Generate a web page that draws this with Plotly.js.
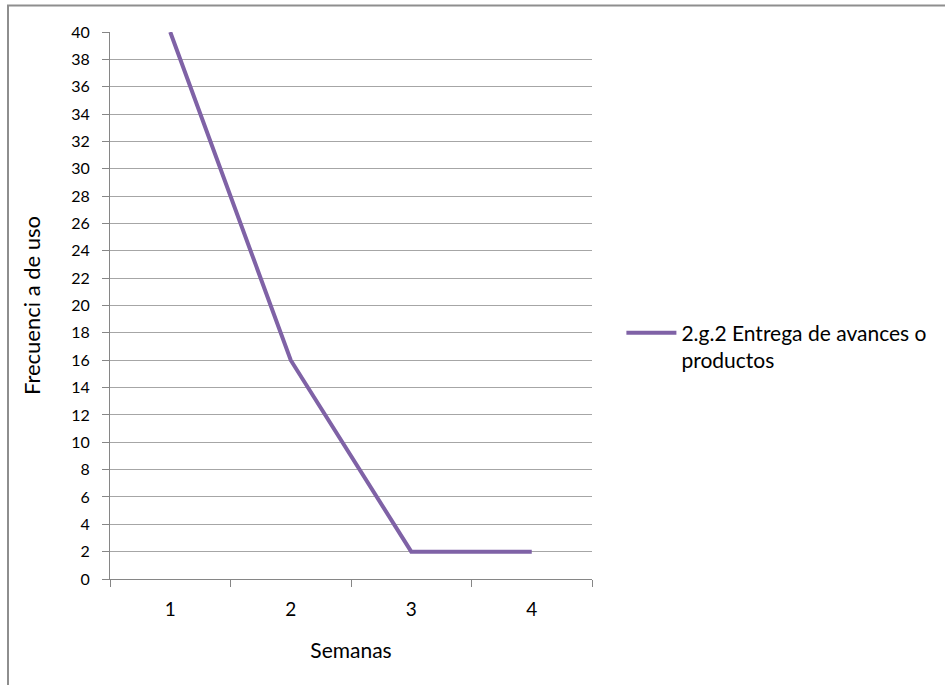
<!DOCTYPE html>
<html>
<head>
<meta charset="utf-8">
<script src="https://cdn.plot.ly/plotly-3.0.1.min.js"></script>
<style>
  html, body { margin: 0; padding: 0; background: #ffffff; }
  #chart { width: 945px; height: 685px; }
</style>
</head>
<body>
<div id="chart"></div>
<script>
// Weekly usage frequency of "2.g.2 Entrega de avances o productos"
const weeks = ['1', '2', '3', '4'];
const frequency = [40, 16, 2, 2];
const seriesName = '2.g.2 Entrega de avances o<br>productos';
const yTicks = [0, 2, 4, 6, 8, 10, 12, 14, 16, 18, 20, 22, 24, 26, 28, 30, 32, 34, 36, 38, 40];

const font = 'Lato, "Open Sans", sans-serif';
const gridColor = '#a6a6a6';
const axisColor = '#868686';

const trace = {
  x: weeks,
  y: frequency,
  type: 'scatter',
  mode: 'lines',
  name: seriesName,
  line: { color: '#7f62a6', width: 4 },
  hoverinfo: 'x+y'
};

const layout = {
  width: 945,
  height: 685,
  margin: { l: 110, r: 353, t: 32, b: 106 },
  paper_bgcolor: '#ffffff',
  plot_bgcolor: '#ffffff',
  font: { family: font, color: '#000000' },
  showlegend: true,
  legend: {
    x: 1.061, y: 0.487, xanchor: 'left', yanchor: 'top',
    font: { family: font, size: 21, color: '#000000' },
    valign: 'top',
    itemwidth: 50,
    bgcolor: 'rgba(0,0,0,0)'
  },
  xaxis: {
    type: 'category',
    range: [-0.5, 3.5],
    tickson: 'boundaries',
    ticks: 'outside',
    ticklen: 7,
    tickcolor: axisColor,
    showgrid: false,
    showline: true,
    linecolor: axisColor,
    linewidth: 1,
    zeroline: false,
    tickfont: { family: font, size: 19 },
    ticklabelstandoff: 13,
    title: { text: 'Semanas', font: { family: font, size: 21 }, standoff: 24 },
    fixedrange: true
  },
  yaxis: {
    range: [0, 40],
    tickvals: yTicks,
    ticks: 'outside',
    ticklen: 7,
    tickcolor: axisColor,
    showgrid: true,
    gridcolor: gridColor,
    gridwidth: 1,
    showline: true,
    linecolor: axisColor,
    linewidth: 1,
    zeroline: false,
    tickfont: { family: font, size: 16 },
    ticklabelstandoff: 9,
    title: { text: 'Frecuenci a de uso', font: { family: font, size: 22 }, standoff: 24 },
    fixedrange: true
  },
  shapes: [
    {
      // outer frame of the chart area
      type: 'rect', xref: 'paper', yref: 'paper',
      x0: (8 - 110) / 482, x1: (950 - 110) / 482,
      y0: (579 - 692) / 547, y1: (579 - 5.5) / 547,
      line: { color: '#8e8e8e', width: 2 },
      fillcolor: 'rgba(0,0,0,0)',
      layer: 'below'
    }
  ]
};

Plotly.newPlot('chart', [trace], layout, { displayModeBar: false, staticPlot: true });
</script>
</body>
</html>
